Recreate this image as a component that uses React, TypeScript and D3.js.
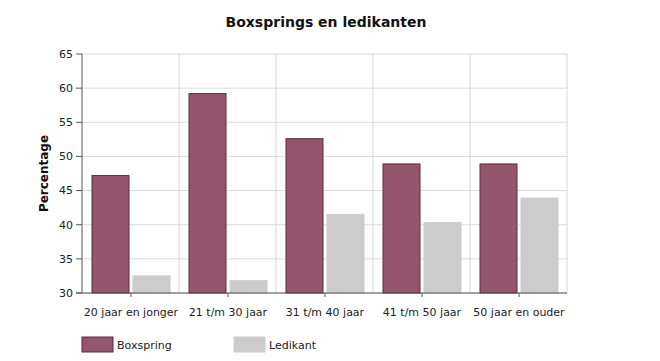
import React from 'react';
import * as d3 from 'd3';

const categories = ['20 jaar en jonger', '21 t/m 30 jaar', '31 t/m 40 jaar', '41 t/m 50 jaar', '50 jaar en ouder'];
const boxspring = [47.2, 59.2, 52.6, 48.9, 48.9];
const ledikant = [32.5, 31.8, 41.5, 40.3, 43.9];
const seriesNames = ['Boxspring', 'Ledikant'];
const yTicks = [30, 35, 40, 45, 50, 55, 60, 65];

const font = 'Verdana, "DejaVu Sans", sans-serif';

export default function App() {
  const width = 660;
  const height = 361;
  const margin = { top: 54, right: 93, bottom: 68, left: 82 };
  const innerWidth = width - margin.left - margin.right;
  const innerHeight = height - margin.top - margin.bottom;

  const x = d3.scaleBand<string>().domain(categories).range([0, innerWidth]);
  const y = d3.scaleLinear().domain([30, 65]).range([innerHeight, 0]);
  const barW = 37;
  const gap = 4;

  const colors = ['#93566c', '#cccccc'];
  const strokes = ['#5e2a42', '#cccccc'];
  const series = [boxspring, ledikant];

  return (
    <svg
      width={width}
      height={height}
      style={{ position: 'absolute', left: 0, top: 0, background: '#fff' }}
      fontFamily={font}
    >
      <text x={326} y={27} textAnchor="middle" fontSize={14} fontWeight="bold" fill="#111">
        Boxsprings en ledikanten
      </text>
      <g transform={`translate(${margin.left},${margin.top})`}>
        {yTicks.map((t) => (
          <g key={t} transform={`translate(0,${y(t)})`}>
            <line x2={innerWidth} stroke="#dcdcdc" />
            <line x1={-6} x2={0} stroke="#555" />
            <text x={-9} dy="0.35em" textAnchor="end" fontSize={11} fill="#222">{t}</text>
          </g>
        ))}
        {categories.map((c) => (
          <line key={c} x1={x(c)! + x.bandwidth()} x2={x(c)! + x.bandwidth()} y2={innerHeight} stroke="#d6d6d6" />
        ))}
        {categories.map((c, i) => {
          const cx = x(c)! + x.bandwidth() / 2 + 0.5;
          return (
            <g key={c}>
              {series.map((s, k) => {
                const bx = k === 0 ? cx - gap / 2 - barW : cx + gap / 2;
                return (
                  <rect
                    key={k}
                    x={bx}
                    y={y(s[i])}
                    width={barW}
                    height={innerHeight - y(s[i])}
                    fill={colors[k]}
                    stroke={strokes[k]}
                    strokeWidth={1}
                  />
                );
              })}
              <line x1={cx} x2={cx} y1={innerHeight} y2={innerHeight + 4} stroke="#555" />
              <text x={cx} y={innerHeight + 23} textAnchor="middle" fontSize={11} fill="#222">{c}</text>
            </g>
          );
        })}
        <line y2={innerHeight} stroke="#555" />
        <line x1={-6} x2={innerWidth} y1={innerHeight} y2={innerHeight} stroke="#555" />
        <text
          transform={`translate(-34,${innerHeight / 2}) rotate(-90)`}
          textAnchor="middle"
          fontSize={12}
          fontWeight="bold"
          fill="#111"
        >
          Percentage
        </text>
      </g>
      {seriesNames.map((n, k) => (
        <g key={n} transform={`translate(${82 + k * 152},337)`}>
          <rect width={31} height={15} fill={colors[k]} stroke={strokes[k]} />
          <text x={35} y={12} fontSize={11} fill="#222">{n}</text>
        </g>
      ))}
    </svg>
  );
}
